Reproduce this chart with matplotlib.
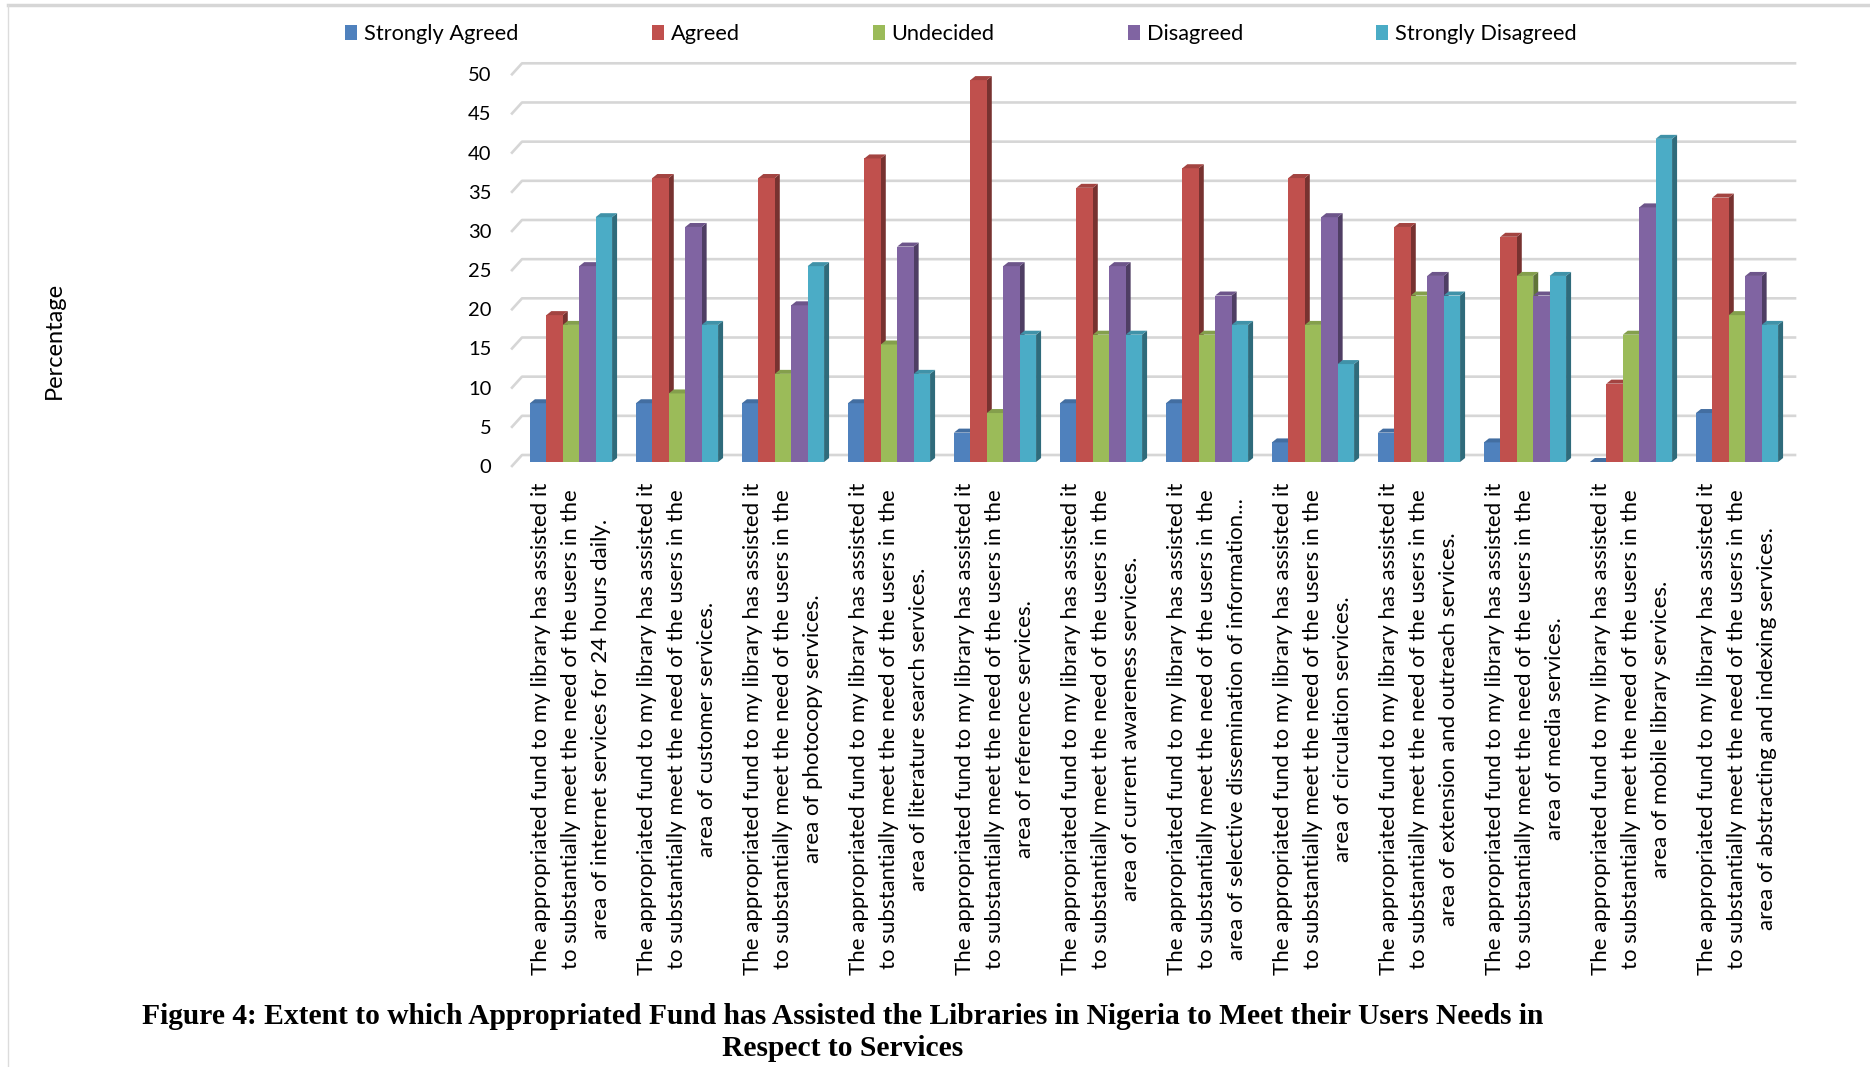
import matplotlib
matplotlib.use("Agg")
import matplotlib.pyplot as plt
from matplotlib.patches import Polygon, Rectangle
from matplotlib.lines import Line2D
from matplotlib.transforms import ScaledTranslation
import numpy as np

# ---- data -------------------------------------------------------------
series_names = ["Strongly Agreed", "Agreed", "Undecided", "Disagreed", "Strongly Disagreed"]
strongly_agreed = [7.5, 7.5, 7.5, 7.5, 3.75, 7.5, 7.5, 2.5, 3.75, 2.5, 0.0, 6.25]
agreed = [18.75, 36.25, 36.25, 38.75, 48.75, 35.0, 37.5, 36.25, 30.0, 28.75, 10.0, 33.75]
undecided = [17.5, 8.75, 11.25, 15.0, 6.25, 16.25, 16.25, 17.5, 21.25, 23.75, 16.25, 18.75]
disagreed = [25.0, 30.0, 20.0, 27.5, 25.0, 25.0, 21.25, 31.25, 23.75, 21.25, 32.5, 23.75]
strongly_disagreed = [31.25, 17.5, 25.0, 11.25, 16.25, 16.25, 17.5, 12.5, 21.25, 23.75, 41.25, 17.5]

stem = ("The appropriated fund to my library has assisted it\n"
        "to substantially meet the need of the users in the\n")
service_areas = [
    "area of internet services for 24 hours daily.",
    "area of customer services.",
    "area of photocopy services.",
    "area of literature search services.",
    "area of reference services.",
    "area of current awareness services.",
    "area of selective dissemination of information...",
    "area of circulation services.",
    "area of extension and outreach services.",
    "area of media services.",
    "area of mobile library services.",
    "area of abstracting and indexing services.",
]
categories = [stem + a for a in service_areas]
y_ticks = [0, 5, 10, 15, 20, 25, 30, 35, 40, 45, 50]

colors = ["#4F81BD", "#C0504D", "#9BBB59", "#8064A2", "#4BACC6"]
series = [strongly_agreed, agreed, undecided, disagreed, strongly_disagreed]

FONT = ["Lato", "DejaVu Sans"]
plt.rcParams["font.family"] = FONT

W, H = 1870, 1067
fig = plt.figure(figsize=(W / 100, H / 100), dpi=100)
fig.patch.set_facecolor("white")

ax_l, ax_r, ax_b, ax_t = 518, 1790, 462, 70.3
ax = fig.add_axes([ax_l / W, 1 - ax_b / H, (ax_r - ax_l) / W, (ax_b - ax_t) / H])
ax.set_xlim(-0.5, len(categories) - 0.5)
ax.set_ylim(0, 50)
for s in ax.spines.values():
    s.set_visible(False)
ax.set_facecolor("none")

# pixel -> data unit conversion for the pseudo 3D depth
ppx = (ax_r - ax_l) / len(categories)
ppy = (ax_b - ax_t) / 50.0
def px(dx, dy):
    return dx / ppx, dy / ppy

# back-wall gridlines with the slanted floor edge at the left
gx0, gy0 = px(-6, -4)
gx1, gy1 = px(4, 7)
gxr, _ = px(5, 0)
for v in y_ticks:
    ax.add_line(Line2D([-0.5 + gx0, -0.5 + gx1, len(categories) - 0.5 + gxr],
                       [v + gy0, v + gy1, v + gy1],
                       color="#d6d6d6", lw=1.9, zorder=1, clip_on=False))

# bars with side and top faces
bw = 0.155
ddx, ddy = px(5, 4)
def shade(c, f):
    r, g, b = matplotlib.colors.to_rgb(c)
    return (r * f, g * f, b * f)

x = np.arange(len(categories))
for si, (vals, c) in enumerate(zip(series, colors)):
    lefts = x + (si - 2.5) * bw
    bars = ax.bar(lefts, vals, width=bw, align="edge", color=c, linewidth=0,
                  label=series_names[si])
    for gi, (bar, x0, h) in enumerate(zip(bars, lefts, vals)):
        z = 3 + gi * 0.1 + si * 0.01
        bar.set_zorder(z)
        side = Polygon([(x0 + bw, 0), (x0 + bw + ddx, ddy), (x0 + bw + ddx, h + ddy), (x0 + bw, h)],
                       closed=True, facecolor=shade(c, 0.62), edgecolor="none", zorder=z - 0.001,
                       clip_on=False)
        top = Polygon([(x0, h), (x0 + ddx, h + ddy), (x0 + bw + ddx, h + ddy), (x0 + bw, h)],
                      closed=True, facecolor=shade(c, 0.85), edgecolor="none", zorder=z,
                      clip_on=False)
        ax.add_patch(side)
        ax.add_patch(top)

# y axis labels
ax.set_yticks(y_ticks)
ax.set_yticklabels([str(v) for v in y_ticks], fontsize=14.5, color="#000000")
ax.tick_params(axis="y", length=0, pad=19)
shift = ScaledTranslation(0, -4 / 100, fig.dpi_scale_trans)
for lab in ax.get_yticklabels():
    lab.set_transform(lab.get_transform() + shift)

# category labels
ax.set_xticks(x)
ax.set_xticklabels(categories, rotation=90, fontsize=16, linespacing=1.6)
for lab in ax.get_xticklabels():
    lab.set_multialignment("center")
ax.tick_params(axis="x", length=0, pad=15)

# legend
handles = [Rectangle((0, 0), 1, 1, facecolor=c, edgecolor="none") for c in colors]
fig.legend(handles, series_names, loc="center", bbox_to_anchor=(961 / W, 1 - 34 / H),
           ncol=5, frameon=False, fontsize=15.7, handlelength=0.55, handleheight=0.65,
           handletextpad=0.32, columnspacing=6.1, borderpad=0, borderaxespad=0)

# y axis title
fig.text(54 / W, 1 - 340 / H, "Percentage", rotation=90, ha="center", va="center", fontsize=17)

# caption
cap_kw = dict(ha="center", va="center", fontsize=21.25, fontweight="bold",
              family=["Liberation Serif", "DejaVu Serif"])
fig.text(843 / W, 1 - 1016 / H,
         "Figure 4: Extent to which Appropriated Fund has Assisted the Libraries in Nigeria to Meet their Users Needs in",
         **cap_kw)
fig.text(843 / W, 1 - 1048 / H, "Respect to Services", **cap_kw)

# page frame lines
fig.add_artist(Line2D([8 / W, 1], [1 - 5 / H, 1 - 5 / H], color="#d6d6d6", lw=2.5,
                      transform=fig.transFigure))
fig.add_artist(Line2D([8 / W, 8 / W], [0, 1 - 5 / H], color="#dcdcdc", lw=1,
                      transform=fig.transFigure))

fig.savefig("out.png", dpi=100, facecolor="white")
